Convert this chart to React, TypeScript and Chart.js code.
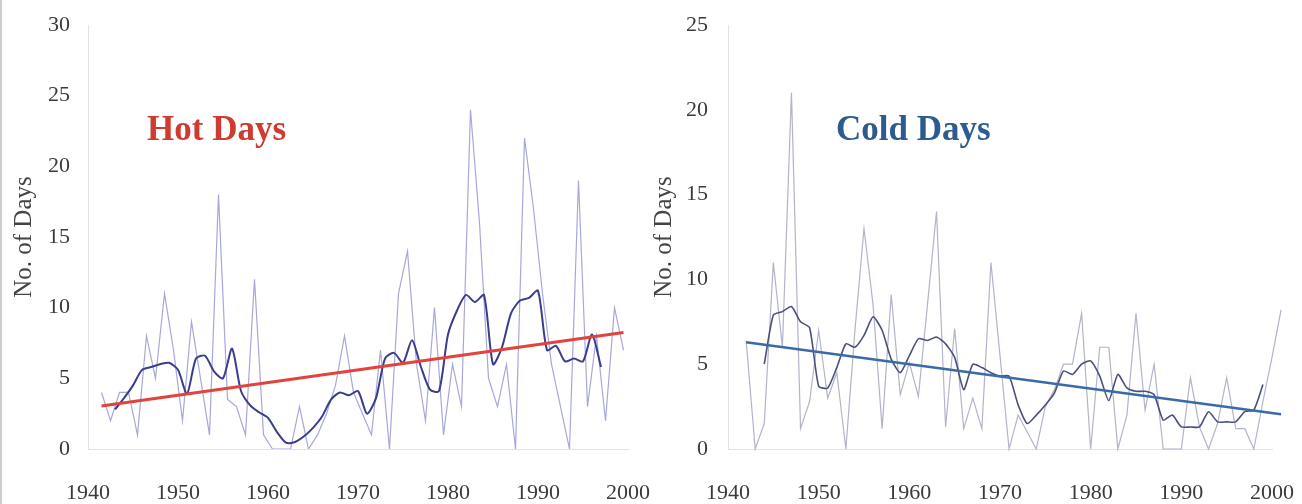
import React, { useEffect, useRef } from 'react';
import { Chart, registerables } from 'chart.js';

Chart.register(...registerables);

// ---------- Data ----------
const xTickYears = [1940, 1950, 1960, 1970, 1980, 1990, 2000];
const hotYTicks = [0, 5, 10, 15, 20, 25, 30];
const coldYTicks = [0, 5, 10, 15, 20, 25];

const hotYears = [
  1942, 1943, 1944, 1945, 1946, 1947, 1948, 1949, 1950, 1951,
  1952, 1953, 1954, 1955, 1956, 1957, 1958, 1959, 1960, 1961,
  1962, 1963, 1964, 1965, 1966, 1967, 1968, 1969, 1970, 1971,
  1972, 1973, 1974, 1975, 1976, 1977, 1978, 1979, 1980, 1981,
  1982, 1983, 1984, 1985, 1986, 1987, 1988, 1989, 1990, 1991,
  1992, 1993, 1994, 1995, 1996, 1997, 1998, 1999, 2000,
];
const hotRaw = [
  4, 2, 4, 4, 1, 8, 5, 11, 7, 2,
  9, 5, 1, 18, 3.5, 3, 1, 12, 1, 0,
  0, 0, 3, 0, 1, 2.5, 4.5, 8, 4, 2.5,
  1, 7, 0, 11, 14, 6, 2, 10, 1, 6,
  3, 24, 16, 5, 3, 6, 0, 22, 17, 11,
  6, 3, 0, 19, 3, 8, 2, 10, 7,
];
const hotSmoothYears = [
  1943, 1944, 1945, 1946, 1947, 1948, 1949, 1950, 1951, 1952,
  1953, 1954, 1955, 1956, 1957, 1958, 1959, 1960, 1961, 1962,
  1963, 1964, 1965, 1966, 1967, 1968, 1969, 1970, 1971, 1972,
  1973, 1974, 1975, 1976, 1977, 1978, 1979, 1980, 1981, 1982,
  1983, 1984, 1985, 1986, 1987, 1988, 1989, 1990, 1991, 1992,
  1993, 1994, 1995, 1996, 1997,
];
const hotSmooth = [
  2.8, 3.6, 4.5, 5.6, 5.8, 6.0, 6.1, 5.6, 3.9, 6.4,
  6.6, 5.5, 5.0, 7.1, 4.1, 3.1, 2.6, 2.2, 1.2, 0.45,
  0.5, 0.9, 1.5, 2.3, 3.5, 4.0, 3.8, 4.1, 2.5, 3.6,
  6.4, 6.8, 6.1, 7.7, 5.8, 4.2, 4.1, 8.1, 9.8, 10.9,
  10.4, 10.9, 6.0, 7.2, 9.6, 10.5, 10.7, 11.2, 7.0, 7.3,
  6.2, 6.4, 6.2, 8.1, 5.8,
];
const hotTrendYears = [1942, 2000];
const hotTrend = [3.05, 8.25];

const coldYears = [
  1942, 1943, 1944, 1945, 1946, 1947, 1948, 1949, 1950, 1951,
  1952, 1953, 1954, 1955, 1956, 1957, 1958, 1959, 1960, 1961,
  1962, 1963, 1964, 1965, 1966, 1967, 1968, 1969, 1970, 1971,
  1972, 1973, 1974, 1975, 1976, 1977, 1978, 1979, 1980, 1981,
  1982, 1983, 1984, 1985, 1986, 1987, 1988, 1989, 1990, 1991,
  1992, 1993, 1994, 1995, 1996, 1997, 1998, 1999, 2000, 2001,
];
const coldRaw = [
  6.4, 0, 1.5, 11, 6, 21, 1.2, 2.8, 7, 3,
  4.5, 0, 7, 13, 8.5, 1.2, 9.1, 3.2, 5.1, 3.1,
  8.5, 14, 1.3, 7.1, 1.2, 3, 1.2, 11, 5.5, 0,
  2, 1, 0, 2.5, 3.5, 5, 5, 8, 0, 6,
  6, 0, 2, 8, 2.3, 5, 0, 0, 0, 4.2,
  1.3, 0, 1.5, 4.2, 1.2, 1.2, 0, 2.8, 5.4, 8.2,
];
const coldSmoothYears = [
  1944, 1945, 1946, 1947, 1948, 1949, 1950, 1951, 1952, 1953,
  1954, 1955, 1956, 1957, 1958, 1959, 1960, 1961, 1962, 1963,
  1964, 1965, 1966, 1967, 1968, 1969, 1970, 1971, 1972, 1973,
  1974, 1975, 1976, 1977, 1978, 1979, 1980, 1981, 1982, 1983,
  1984, 1985, 1986, 1987, 1988, 1989, 1990, 1991, 1992, 1993,
  1994, 1995, 1996, 1997, 1998, 1999,
];
const coldSmooth = [
  5.0, 7.9, 8.1, 8.4, 7.5, 7.15, 3.7, 3.6, 4.8, 6.2,
  6.0, 6.7, 7.8, 7.0, 5.3, 4.5, 5.5, 6.5, 6.4, 6.6,
  6.2, 5.4, 3.5, 5.0, 4.8, 4.5, 4.3, 4.3, 2.6, 1.5,
  2.0, 2.6, 3.3, 4.6, 4.4, 5.0, 5.2, 4.3, 2.85, 4.4,
  3.6, 3.4, 3.4, 3.2, 1.7, 2.0, 1.3, 1.3, 1.3, 2.2,
  1.6, 1.6, 1.6, 2.2, 2.3, 3.8,
];
const coldTrendYears = [1942, 2001];
const coldTrend = [6.3, 2.05];

// the hot annual series is plotted half a year left of its year (as in the source)
const HOT_RAW_SHIFT = -0.5;
const X_MIN = 1940;
const X_MAX = 2000;

// ---------- Styles ----------
const SERIF = '"Liberation Serif", "Times New Roman", serif';
const AXIS_LINE = '#e2e2e2';
const TICK_COLOR = '#3a3a3a';

function pts(xs: number[], ys: number[], shift = 0) {
  return xs.map((x, i) => ({ x: x + shift, y: ys[i] }));
}

function makeOptions(o: {
  yMax: number;
  yTicks: number[];
  yAxisWidth: number;
  rightPad: number;
  titlePad: number;
  tickPad: number;
}) {
  return {
    responsive: false,
    maintainAspectRatio: false,
    animation: false as const,
    devicePixelRatio: 1,
    layout: { padding: { top: 25, right: o.rightPad, bottom: 0, left: 0 } },
    plugins: {
      legend: { display: false },
      tooltip: { enabled: false },
      title: { display: false },
    },
    elements: { point: { radius: 0 } },
    scales: {
      x: {
        type: 'linear' as const,
        // range set after data limits so that points just past 2000 are still drawn
        afterDataLimits: (s: any) => {
          s.min = X_MIN;
          s.max = X_MAX;
        },
        afterBuildTicks: (s: any) => {
          s.ticks = xTickYears.map((v) => ({ value: v }));
        },
        afterFit: (s: any) => {
          s.height = 55;
          s.paddingLeft = 0;
          s.paddingRight = 0;
        },
        grid: { display: false, drawTicks: false },
        border: { display: true, color: AXIS_LINE, width: 1 },
        ticks: {
          autoSkip: false,
          maxRotation: 0,
          padding: 31,
          color: TICK_COLOR,
          font: { family: SERIF, size: 22 },
          callback: (v: any) => String(v),
        },
      },
      y: {
        min: 0,
        max: o.yMax,
        afterBuildTicks: (s: any) => {
          s.ticks = o.yTicks.map((v) => ({ value: v }));
        },
        afterFit: (s: any) => {
          s.width = o.yAxisWidth;
          s.paddingTop = 0;
          s.paddingBottom = 0;
        },
        grid: { display: false, drawTicks: false },
        border: { display: true, color: AXIS_LINE, width: 1 },
        ticks: {
          padding: o.tickPad,
          color: TICK_COLOR,
          font: { family: SERIF, size: 22 },
          callback: (v: any) => String(v),
        },
        title: {
          display: true,
          text: 'No. of Days',
          color: '#444444',
          font: { family: SERIF, size: 25 },
          padding: { top: o.titlePad, bottom: 0 },
        },
      },
    },
  };
}

export default function App() {
  const leftRef = useRef<HTMLCanvasElement>(null);
  const rightRef = useRef<HTMLCanvasElement>(null);

  useEffect(() => {
    const hot = new Chart(leftRef.current!, {
      type: 'line',
      data: {
        datasets: [
          {
            data: pts(hotTrendYears, hotTrend, HOT_RAW_SHIFT),
            borderColor: '#e1443c',
            borderWidth: 3,
            pointRadius: 0,
            tension: 0,
          },
          {
            data: pts(hotSmoothYears, hotSmooth),
            borderColor: '#383d8e',
            borderWidth: 2,
            pointRadius: 0,
            tension: 0.25,
          },
          {
            data: pts(hotYears, hotRaw, HOT_RAW_SHIFT),
            borderColor: '#a7a7dc',
            borderWidth: 1.2,
            pointRadius: 0,
            tension: 0,
          },
        ],
      },
      options: makeOptions({
        yMax: 30,
        yTicks: hotYTicks,
        yAxisWidth: 88,
        rightPad: 22,
        titlePad: 9,
        tickPad: 18,
      }) as any,
    });

    const cold = new Chart(rightRef.current!, {
      type: 'line',
      data: {
        datasets: [
          {
            data: pts(coldTrendYears, coldTrend),
            borderColor: '#3b6ba6',
            borderWidth: 2.5,
            pointRadius: 0,
            tension: 0,
            clip: false as any,
          },
          {
            data: pts(coldSmoothYears, coldSmooth),
            borderColor: '#4a4f7c',
            borderWidth: 1.6,
            pointRadius: 0,
            tension: 0.2,
            clip: false as any,
          },
          {
            data: pts(coldYears, coldRaw),
            borderColor: '#b3b3cb',
            borderWidth: 1.2,
            pointRadius: 0,
            tension: 0,
            clip: false as any,
          },
        ],
      },
      options: makeOptions({
        yMax: 25,
        yTicks: coldYTicks,
        yAxisWidth: 83,
        rightPad: 30,
        titlePad: 4,
        tickPad: 20,
      }) as any,
    });

    return () => {
      hot.destroy();
      cold.destroy();
    };
  }, []);

  return (
    <div
      style={{
        position: 'fixed',
        left: 0,
        top: 0,
        width: 1302,
        height: 504,
        background: '#ffffff',
        overflow: 'hidden',
      }}
    >
      <canvas
        ref={leftRef}
        width={650}
        height={504}
        style={{ position: 'absolute', left: 0, top: 0, width: 650, height: 504 }}
      />
      <canvas
        ref={rightRef}
        width={657}
        height={504}
        style={{ position: 'absolute', left: 645, top: 0, width: 657, height: 504 }}
      />
      <div
        style={{
          position: 'absolute',
          left: 147,
          top: 109,
          font: `bold 35px ${SERIF}`,
          color: '#cf3a31',
          whiteSpace: 'nowrap',
        }}
      >
        Hot Days
      </div>
      <div
        style={{
          position: 'absolute',
          left: 836,
          top: 109,
          font: `bold 35px ${SERIF}`,
          color: '#2d5b8f',
          whiteSpace: 'nowrap',
        }}
      >
        Cold Days
      </div>
      <div
        style={{
          position: 'absolute',
          left: 0,
          top: 0,
          width: 2,
          height: 504,
          background: '#cfcfcf',
        }}
      />
    </div>
  );
}
